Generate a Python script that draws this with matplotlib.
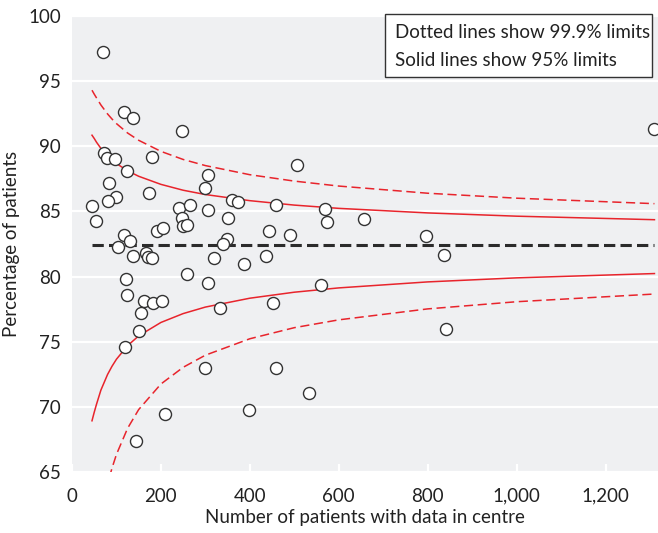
import numpy as np
import matplotlib
matplotlib.use("Agg")
import matplotlib.pyplot as plt
from matplotlib.patches import Rectangle

plt.rcParams['font.family'] = ['Lato', 'DejaVu Sans']

# centre size (patients with data) and percentage for each centre
centre_n = [69, 118, 137, 247, 73, 78, 97, 181, 123, 305, 83, 299, 173, 98, 80, 45, 54,
            241, 266, 307, 248, 250, 259, 359, 374, 351, 348, 339, 117, 131, 191, 205,
            104, 138, 167, 172, 181, 320, 386, 436, 259, 122, 305, 124, 162, 183, 203,
            155, 332, 150, 119, 300, 458, 534, 398, 210, 145, 506, 458, 570, 573, 657,
            444, 491, 560, 452, 1308, 797, 836, 842]
centre_pct = [97.2, 92.6, 92.2, 91.2, 89.5, 89.1, 89.0, 89.2, 88.1, 87.8, 87.2, 86.8, 86.4,
              86.1, 85.8, 85.4, 84.3, 85.3, 85.5, 85.1, 84.5, 83.9, 84.0, 85.9, 85.7, 84.5,
              82.9, 82.5, 83.2, 82.7, 83.5, 83.7, 82.3, 81.6, 81.8, 81.5, 81.4, 81.4, 81.0,
              81.6, 80.2, 79.8, 79.5, 78.6, 78.1, 78.0, 78.1, 77.2, 77.6, 75.8, 74.6, 73.0,
              73.0, 71.1, 69.8, 69.5, 67.4, 88.6, 85.5, 85.2, 84.2, 84.4, 83.5, 83.2, 79.4,
              78.0, 91.3, 83.1, 81.7, 76.0]

overall_pct = 82.4

# control limits (95% and 99.9%) by centre size
limit_n = [45, 50, 55, 65, 80, 90, 100, 125, 150, 200, 250, 300, 400, 500, 600, 800, 1000, 1310]
upper_95 = [90.85, 90.60, 90.32, 89.84, 89.28, 88.95, 88.68, 88.12, 87.70, 87.08, 86.63,
            86.30, 85.83, 85.49, 85.24, 84.89, 84.64, 84.37]
lower_95 = [68.95, 69.60, 70.20, 71.30, 72.50, 73.13, 73.67, 74.71, 75.46, 76.49, 77.17,
            77.67, 78.35, 78.81, 79.14, 79.60, 79.91, 80.24]
upper_999 = [94.30, 94.00, 93.72, 93.17, 92.48, 92.09, 91.74, 91.02, 90.46, 89.61, 88.99,
             88.52, 87.82, 87.33, 86.95, 86.40, 86.02, 85.60]
lower_999_n = [70, 80, 85, 90, 100, 125, 150, 200, 250, 300, 400, 500, 600, 800, 1000, 1310]
lower_999 = [62.50, 64.05, 64.72, 65.32, 66.37, 68.37, 69.81, 71.77, 73.05, 73.98, 75.24,
             76.09, 76.69, 77.53, 78.08, 78.67]

x_ticks = [0, 200, 400, 600, 800, 1000, 1200]
x_ticklabels = ['0', '200', '400', '600', '800', '1,000', '1,200']
y_ticks = [65, 70, 75, 80, 85, 90, 95, 100]

red = '#e8242c'
fs = 13.5
fig = plt.figure(figsize=(6.58, 5.33), dpi=100)
ax = fig.add_axes([0.1094, 0.1139, 0.8906, 0.8563])
ax.set_facecolor('#eff0f2')
for s in ax.spines.values():
    s.set_visible(False)

ax.set_xlim(0, 1318)
ax.set_ylim(65, 100)
ax.set_yticks(y_ticks)
ax.set_xticks(x_ticks)
ax.set_xticklabels(x_ticklabels)
ax.grid(axis='y', color='white', linewidth=1.6)
ax.set_axisbelow(True)
ax.tick_params(axis='y', length=0, labelsize=fs, pad=8, labelcolor='#222222')
ax.tick_params(axis='x', direction='in', length=6, width=1.6, color='white',
               labelsize=fs, pad=11, labelcolor='#222222')

# funnel limits
ax.plot(limit_n, upper_95, color=red, lw=1.1)
ax.plot(limit_n, lower_95, color=red, lw=1.1)
ax.plot(limit_n, upper_999, color=red, lw=1.1, dashes=(6, 3))
ax.plot(lower_999_n, lower_999, color=red, lw=1.1, dashes=(6, 3))

# overall mean
ax.plot([45, 1310], [overall_pct, overall_pct], color='#2b2b2b', lw=2.2, dashes=(3.7, 1.7))

ax.scatter(centre_n, centre_pct, s=75, facecolor='white', edgecolor='#333333',
           linewidth=1.0, zorder=5, clip_on=True)

ax.set_xlabel('Number of patients with data in centre', fontsize=fs, color='#222222',
              labelpad=3)
ax.set_ylabel('Percentage of patients', fontsize=fs, color='#222222', labelpad=6)

# note box in the top right corner
ax.add_patch(Rectangle((0.534, 0.866), 0.456, 0.138, transform=ax.transAxes,
                       facecolor='white', edgecolor='#333333', lw=1.0,
                       clip_on=False, zorder=6))
ax.text(0.551, 0.9625, 'Dotted lines show 99.9% limits', transform=ax.transAxes,
        fontsize=fs, va='center', ha='left', color='#222222', zorder=7)
ax.text(0.551, 0.903, 'Solid lines show 95% limits', transform=ax.transAxes,
        fontsize=fs, va='center', ha='left', color='#222222', zorder=7)

fig.savefig('out.png', dpi=100)
